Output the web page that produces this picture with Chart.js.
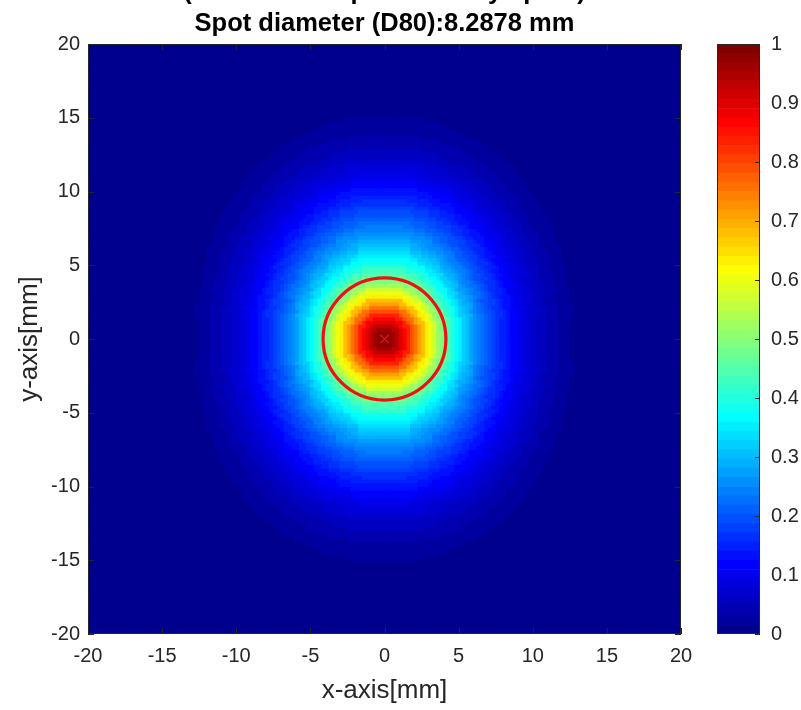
<!DOCTYPE html>
<html><head><meta charset="utf-8">
<script src="https://cdn.jsdelivr.net/npm/chart.js@4.4.0/dist/chart.umd.min.js"></script>
<style>
html,body{margin:0;padding:0;background:#fff;}
#wrap{position:relative;width:801px;height:710px;overflow:hidden;}
#main{position:absolute;left:0;top:0;}
#cbar{position:absolute;left:700px;top:0;}
</style></head><body>
<div id="wrap"><canvas id="main" width="801" height="710"></canvas><canvas id="cbar" width="101" height="710"></canvas></div>
<script>
// ---- data ----
const titleLines = ['(Normalized spot intensity spots)', 'Spot diameter (D80):8.2878 mm'];
const xLabel = 'x-axis[mm]';
const yLabel = 'y-axis[mm]';
const xTicks = [-20, -15, -10, -5, 0, 5, 10, 15, 20];
const yTicks = [-20, -15, -10, -5, 0, 5, 10, 15, 20];
const cbTicks = [0, 0.1, 0.2, 0.3, 0.4, 0.5, 0.6, 0.7, 0.8, 0.9, 1];
const spotDiameter = 8.2878;          // mm
const spotCenter = [0, 0];            // mm
const radialStep = 0.25;              // mm between profile samples
// normalized intensity read along the x transect at r = 0, 0.25, 0.5, ... 20 mm
const profileX = [
  1.000, 0.995, 0.980, 0.960, 0.935, 0.905, 0.870, 0.835, 0.795, 0.755,
  0.715, 0.675, 0.635, 0.600, 0.565, 0.530, 0.495, 0.462, 0.430, 0.400,
  0.372, 0.345, 0.320, 0.298, 0.278, 0.259, 0.241, 0.224, 0.208, 0.193,
  0.179, 0.166, 0.154, 0.143, 0.132, 0.121, 0.110, 0.100, 0.091, 0.082,
  0.074, 0.067, 0.061, 0.055, 0.049, 0.043, 0.038, 0.033, 0.028, 0.023,
  0.019, 0.015, 0.012, 0.009, 0.007, 0.005, 0.003, 0.002, 0.001, 0.000,
  0.000, 0.000, 0.000, 0.000, 0.000, 0.000, 0.000, 0.000, 0.000, 0.000,
  0.000, 0.000, 0.000, 0.000, 0.000, 0.000, 0.000, 0.000, 0.000, 0.000,
  0.000
];
// normalized intensity read along the y transect at r = 0, 0.25, 0.5, ... 20 mm
const profileY = [
  1.000, 0.995, 0.980, 0.960, 0.935, 0.905, 0.870, 0.835, 0.795, 0.755,
  0.715, 0.675, 0.635, 0.600, 0.565, 0.530, 0.495, 0.473, 0.446, 0.428,
  0.410, 0.388, 0.372, 0.352, 0.334, 0.317, 0.302, 0.288, 0.276, 0.263,
  0.247, 0.236, 0.222, 0.212, 0.200, 0.190, 0.179, 0.168, 0.158, 0.148,
  0.140, 0.130, 0.121, 0.112, 0.103, 0.095, 0.088, 0.081, 0.074, 0.067,
  0.061, 0.055, 0.050, 0.045, 0.040, 0.036, 0.031, 0.027, 0.024, 0.020,
  0.017, 0.014, 0.012, 0.009, 0.007, 0.005, 0.004, 0.003, 0.002, 0.001,
  0.000, 0.000, 0.000, 0.000, 0.000, 0.000, 0.000, 0.000, 0.000, 0.000,
  0.000
];
const gridStep = 0.25;                // mm cell size
const xRange = [-20, 20];
const yRange = [-20, 20];

// ---- MATLAB jet(64) colormap ----
const jetMap = (() => {
  const m = 64, n = 16;
  const u = [];
  for (let k = 1; k <= n; k++) u.push(k / n);
  for (let k = 0; k < n - 1; k++) u.push(1);
  for (let k = n; k >= 1; k--) u.push(k / n);
  const R = new Array(m).fill(0), G = new Array(m).fill(0), B = new Array(m).fill(0);
  for (let j = 0; j < u.length; j++) {
    const gi = 8 + j + 1, ri = gi + n, bi = gi - n;
    if (gi >= 1 && gi <= m) G[gi - 1] = u[j];
    if (ri >= 1 && ri <= m) R[ri - 1] = u[j];
    if (bi >= 1 && bi <= m) B[bi - 1] = u[j];
  }
  return R.map((r, i) => `rgb(${Math.round(r * 255)},${Math.round(G[i] * 255)},${Math.round(B[i] * 255)})`);
})();
function colorOf(v) { return jetMap[Math.max(0, Math.min(63, Math.floor(v * 64)))]; }

// ---- cell table built from the two read transects ----
const cells = [];
const nx = Math.round((xRange[1] - xRange[0]) / gridStep);
const ny = Math.round((yRange[1] - yRange[0]) / gridStep);
for (let i = 0; i < nx; i++) {
  for (let j = 0; j < ny; j++) {
    const x = xRange[0] + gridStep * (i + 0.5);
    const y = yRange[0] + gridStep * (j + 0.5);
    const dx = x - spotCenter[0], dy = y - spotCenter[1];
    const r = Math.hypot(dx, dy);
    const k = Math.min(profileX.length - 1, Math.round(r / radialStep));
    const wx = r > 0 ? (dx * dx) / (r * r) : 0.5;
    cells.push({ x, y, v: profileX[k] * wx + profileY[k] * (1 - wx) });
  }
}
const cellColors = cells.map(c => colorOf(c.v));

const FONT = '"Liberation Sans", Arial, Helvetica, sans-serif';
const AXC = '#262626';

function cellRadius(chart) {
  const sx = chart.scales.x, sy = chart.scales.y;
  const w = Math.abs(sx.getPixelForValue(gridStep) - sx.getPixelForValue(0));
  const h = Math.abs(sy.getPixelForValue(gridStep) - sy.getPixelForValue(0));
  return (Math.max(w, h) + 0.8) / (2 * Math.SQRT1_2);
}

const spotPlugin = {
  id: 'spotCircle',
  afterDatasetsDraw(chart) {
    const { ctx, scales: { x, y }, chartArea } = chart;
    const cx = x.getPixelForValue(spotCenter[0]);
    const cy = y.getPixelForValue(spotCenter[1]);
    const rx = Math.abs(x.getPixelForValue(spotCenter[0] + spotDiameter / 2) - cx);
    const ry = Math.abs(y.getPixelForValue(spotCenter[1] + spotDiameter / 2) - cy);
    ctx.save();
    ctx.beginPath();
    ctx.rect(chartArea.left, chartArea.top, chartArea.width, chartArea.height);
    ctx.clip();
    ctx.beginPath();
    ctx.ellipse(cx, cy, rx, ry, 0, 0, Math.PI * 2);
    ctx.lineWidth = 3.2;
    ctx.strokeStyle = 'rgb(240,16,16)';
    ctx.stroke();
    ctx.restore();
  }
};

const framePlugin = {
  id: 'frame',
  afterDraw(chart) {
    const { ctx, chartArea: a, scales: { x, y } } = chart;
    ctx.save();
    ctx.strokeStyle = AXC;
    ctx.lineWidth = 1;
    const tl = 6;
    ctx.beginPath();
    xTicks.forEach(v => {
      const px = Math.round(x.getPixelForValue(v)) + 0.5;
      ctx.moveTo(px, a.bottom); ctx.lineTo(px, a.bottom - tl);
      ctx.moveTo(px, a.top); ctx.lineTo(px, a.top + tl);
    });
    yTicks.forEach(v => {
      const py = Math.round(y.getPixelForValue(v)) + 0.5;
      ctx.moveTo(a.left, py); ctx.lineTo(a.left + tl, py);
      ctx.moveTo(a.right, py); ctx.lineTo(a.right - tl, py);
    });
    ctx.stroke();
    ctx.strokeRect(Math.round(a.left) + 0.5, Math.round(a.top) + 0.5, Math.round(a.width) - 1, Math.round(a.height) - 1);
    // title
    ctx.fillStyle = '#000';
    ctx.font = 'bold 25.5px ' + FONT;
    ctx.textAlign = 'center';
    ctx.textBaseline = 'alphabetic';
    const cx = (a.left + a.right) / 2;
    ctx.fillText(titleLines[0], cx, -1);
    ctx.fillText(titleLines[1], cx, 31);
    ctx.restore();
  }
};

const tickFont = { family: FONT, size: 20 };
const labelFont = { family: FONT, size: 26 };

new Chart(document.getElementById('main'), {
  type: 'scatter',
  data: {
    datasets: [
      {
        label: 'centre',
        data: [{ x: spotCenter[0], y: spotCenter[1] }],
        pointStyle: 'crossRot',
        pointRadius: 6,
        pointBorderColor: 'rgb(225,20,20)',
        pointBorderWidth: 1.4,
        pointBackgroundColor: 'rgba(0,0,0,0)',
        order: 0
      },
      {
        label: 'intensity',
        data: cells,
        pointStyle: 'rect',
        pointBorderWidth: 0,
        pointRadius: (ctx) => cellRadius(ctx.chart),
        pointBackgroundColor: cellColors,
        order: 1
      }
    ]
  },
  options: {
    responsive: false,
    animation: false,
    devicePixelRatio: 1,
    events: [],
    layout: { padding: { left: 0, right: 120, top: 44, bottom: 0 } },
    plugins: { legend: { display: false }, tooltip: { enabled: false }, title: { display: false } },
    scales: {
      x: {
        type: 'linear', min: xRange[0], max: xRange[1],
        afterBuildTicks: (s) => { s.ticks = xTicks.map(v => ({ value: v })); },
        ticks: { font: tickFont, color: AXC, padding: 10, maxRotation: 0, autoSkip: false },
        grid: { display: false, drawTicks: false },
        border: { display: false },
        title: { display: true, text: xLabel, font: labelFont, color: AXC, padding: { top: 0, bottom: 4 } },
        afterFit: (s) => { s.height = 76; }
      },
      y: {
        type: 'linear', min: yRange[0], max: yRange[1],
        afterBuildTicks: (s) => { s.ticks = yTicks.map(v => ({ value: v })); },
        ticks: { font: tickFont, color: AXC, padding: 8, autoSkip: false },
        grid: { display: false, drawTicks: false },
        border: { display: false },
        title: { display: true, text: yLabel, font: labelFont, color: AXC, padding: { top: 14, bottom: 0 } },
        afterFit: (s) => { s.width = 88; }
      }
    }
  },
  plugins: [spotPlugin, framePlugin]
});

const cbFramePlugin = {
  id: 'cbFrame',
  afterDraw(chart) {
    const { ctx, chartArea: a, scales: { y } } = chart;
    ctx.save();
    ctx.strokeStyle = AXC;
    ctx.lineWidth = 1;
    ctx.beginPath();
    cbTicks.forEach(v => {
      const py = Math.round(y.getPixelForValue(v)) + 0.5;
      ctx.moveTo(a.right, py); ctx.lineTo(a.right - 5, py);
    });
    ctx.stroke();
    ctx.strokeRect(Math.round(a.left) + 0.5, Math.round(a.top) + 0.5, Math.round(a.width) - 1, Math.round(a.height) - 1);
    ctx.restore();
  }
};

new Chart(document.getElementById('cbar'), {
  type: 'bar',
  data: {
    labels: ['colorbar'],
    datasets: jetMap.map((c, i) => ({
      label: 'level ' + i,
      data: [[i / 64, (i + 1) / 64]],
      backgroundColor: c,
      borderWidth: 0,
      barPercentage: 1,
      categoryPercentage: 1,
      grouped: false
    }))
  },
  options: {
    responsive: false,
    animation: false,
    devicePixelRatio: 1,
    events: [],
    layout: { padding: { left: 17, right: 0, top: 44, bottom: 76 } },
    plugins: { legend: { display: false }, tooltip: { enabled: false } },
    scales: {
      x: { display: false },
      y: {
        position: 'right', min: 0, max: 1,
        afterBuildTicks: (s) => { s.ticks = cbTicks.map(v => ({ value: v })); },
        ticks: { font: tickFont, color: AXC, padding: 11, autoSkip: false, callback: (v) => String(+v.toFixed(1)) },
        grid: { display: false, drawTicks: false },
        border: { display: false },
        afterFit: (s) => { s.width = 41; }
      }
    }
  },
  plugins: [cbFramePlugin]
});
</script>
</body></html>
